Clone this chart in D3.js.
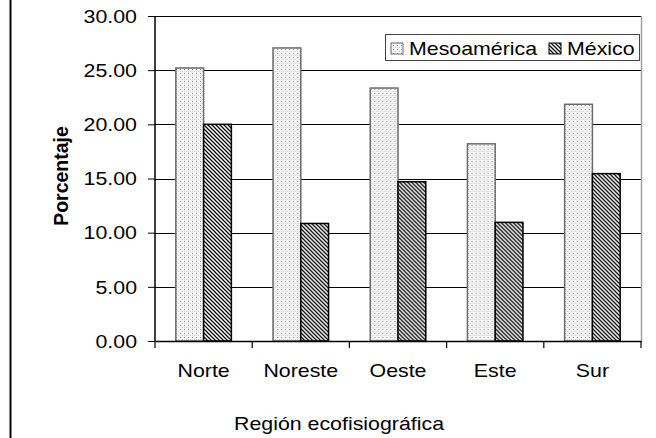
<!DOCTYPE html>
<html><head><meta charset="utf-8">
<script src="https://cdn.jsdelivr.net/npm/d3@7"></script>
<style>body{margin:0;background:#fff}svg{display:block}text{font-family:"Liberation Sans",Arial,sans-serif;fill:#000}</style>
</head><body><svg id="c" width="656" height="438"></svg>
<script>
const categories = ["Norte","Noreste","Oeste","Este","Sur"];
const seriesNames = ["Mesoamérica","México"];
const mesoamerica = [25.2, 27.05, 23.35, 18.2, 21.85];
const mexico = [20.0, 10.85, 14.7, 10.95, 15.45];
const yTicks = [0,5,10,15,20,25,30];
const yTitle = "Porcentaje";
const xTitle = "Región ecofisiográfica";

const svg = d3.select("#c");
const L=155, R=641, T=16, B=341, SX=1.22, FS=17.5;
const x = d3.scaleBand().domain(categories).range([L,R]).paddingInner(0).paddingOuter(0);
const x1 = d3.scaleBand().domain(seriesNames).range([0,x.bandwidth()]).paddingInner(0).paddingOuter(0.75);
const y = d3.scaleLinear().domain([0,30]).range([B,T]);

const defs = svg.append("defs");
const pd = defs.append("pattern").attr("id","dots").attr("patternUnits","userSpaceOnUse").attr("width",4).attr("height",4);
pd.append("rect").attr("width",4).attr("height",4).attr("fill","#f6f6f6");
pd.append("rect").attr("x",1).attr("y",1).attr("width",1).attr("height",1).attr("fill","#8a8a8a");
pd.append("rect").attr("x",3).attr("y",3).attr("width",1).attr("height",1).attr("fill","#c8c8c8");
pd.append("rect").attr("x",1).attr("y",3).attr("width",1).attr("height",1).attr("fill","#dcdcdc");
const ps = defs.append("pattern").attr("id","stripes").attr("patternUnits","userSpaceOnUse").attr("width",4).attr("height",4);
ps.append("rect").attr("width",4).attr("height",4).attr("fill","#fff");
ps.append("path").attr("d","M-1,-1 L5,5 M-1,3 L1,5 M3,-1 L5,1").attr("stroke","#000").attr("stroke-width",1.25);

// left frame line
svg.append("line").attr("x1",10.5).attr("x2",10.5).attr("y1",0).attr("y2",438).attr("stroke","#000").attr("stroke-width",2);

// gridlines
svg.append("g").selectAll("line").data(yTicks.filter(d=>d>0)).join("line")
  .attr("x1",L).attr("x2",R).attr("y1",d=>Math.round(y(d))+0.5).attr("y2",d=>Math.round(y(d))+0.5)
  .attr("stroke","#000").attr("stroke-width",1);
// right plot border
svg.append("line").attr("x1",R+0.5).attr("x2",R+0.5).attr("y1",T).attr("y2",B).attr("stroke","#a0a0a0").attr("stroke-width",1.5);

// bars
const data = categories.map((c,i)=>({c, vals:[{s:seriesNames[0],v:mesoamerica[i]},{s:seriesNames[1],v:mexico[i]}]}));
const g = svg.append("g").selectAll("g").data(data).join("g").attr("transform",d=>`translate(${x(d.c)},0)`);
g.selectAll("rect").data(d=>d.vals).join("rect")
  .attr("x",d=>x1(d.s)).attr("width",x1.bandwidth())
  .attr("y",d=>y(d.v)).attr("height",d=>B-y(d.v))
  .attr("fill",d=>d.s===seriesNames[0]?"url(#dots)":"url(#stripes)")
  .attr("stroke",d=>d.s===seriesNames[0]?"#6a6a6a":"#000").attr("stroke-width",1.5);

// y axis
const ya = svg.append("g").attr("transform",`translate(${L},0)`)
  .call(d3.axisLeft(y).tickValues(yTicks).tickSize(7).tickFormat(d3.format(".2f")));
ya.select(".domain").attr("stroke","#000").attr("stroke-width",1.5).attr("d",`M0,${T}V${B}`);
ya.selectAll(".tick line").attr("stroke","#000");
ya.selectAll(".tick text").attr("x",0).attr("dy",null).attr("dominant-baseline","central")
  .attr("font-size",FS).attr("text-anchor","end").attr("font-family","Liberation Sans, Arial, sans-serif")
  .attr("transform",`translate(${137-L},0) scale(${SX},1)`);

// x axis
const xa = svg.append("g").attr("transform",`translate(0,${B})`)
  .call(d3.axisBottom(x).tickSize(0).tickFormat(""));
xa.select(".domain").attr("stroke","#000").attr("stroke-width",1.5);
xa.selectAll(".tick").remove();
svg.append("g").selectAll("line").data(d3.range(categories.length+1)).join("line")
  .attr("x1",i=>L+i*x.bandwidth()).attr("x2",i=>L+i*x.bandwidth()).attr("y1",B).attr("y2",B+7)
  .attr("stroke","#000").attr("stroke-width",1.2);
svg.append("g").selectAll("text").data(categories).join("text")
  .attr("transform",d=>`translate(${x(d)+x.bandwidth()/2},377) scale(${SX},1)`)
  .attr("text-anchor","middle").attr("font-size",FS).text(d=>d);

// titles
svg.append("text").attr("transform",`translate(339,430) scale(${SX},1)`).attr("text-anchor","middle").attr("font-size",FS).text(xTitle);
svg.append("text").attr("transform","translate(68,176) rotate(-90)").attr("text-anchor","middle").attr("font-size",19.5).attr("font-weight","bold").text(yTitle);

// legend
const lg = svg.append("g");
lg.append("rect").attr("x",385.5).attr("y",34.5).attr("width",254).attr("height",26).attr("fill","#fff").attr("stroke","#444").attr("stroke-width",1);
const lx=[391,549], tx=[409,567];
seriesNames.forEach((s,i)=>{
  lg.append("rect").attr("x",lx[i]).attr("y",43).attr("width",12).attr("height",11)
    .attr("fill",i===0?"url(#dots)":"url(#stripes)").attr("stroke",i===0?"#6a6a6a":"#000").attr("stroke-width",1);
  lg.append("text").attr("transform",`translate(${tx[i]},55) scale(${SX},1)`).attr("font-size",FS).text(s);
});
</script></body></html>
